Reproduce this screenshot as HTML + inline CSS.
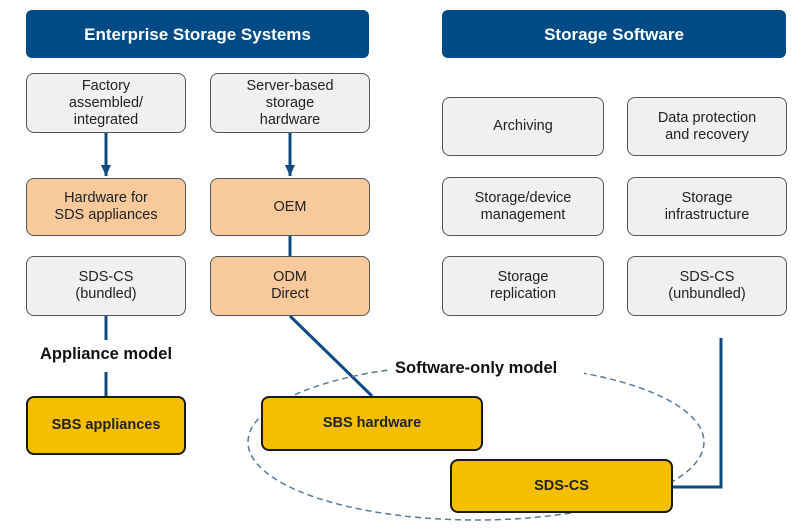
<!DOCTYPE html>
<html><head><style>
body{margin:0;width:804px;height:529px;background:#fff;overflow:hidden;position:relative;font-family:"Liberation Sans",Arial,sans-serif;}
.b{position:absolute;box-sizing:border-box;border-radius:8px;display:flex;align-items:center;justify-content:center;text-align:center;font-size:14.5px;line-height:17px;color:#222;}
.h{background:#004a86;color:#fff;font-weight:bold;font-size:17px;border-radius:6px;}
.g{background:#f0f0f0;border:1.5px solid #555;}
.o{background:#f8c99a;border:1.5px solid #555;}
.y{background:#f5bf00;border:2px solid #1a1a1a;font-weight:bold;color:#222;}
.t{position:absolute;font-weight:bold;font-size:16.5px;color:#111;}
</style></head><body>
<svg width="804" height="529" style="position:absolute;left:0;top:0">
<defs><marker id="a" markerUnits="userSpaceOnUse" markerWidth="12" markerHeight="12" refX="11" refY="6" orient="auto"><path d="M0,1 L11,6 L0,11 z" fill="#0d4a80"/></marker></defs>
<g stroke="#0d4a80" stroke-width="3" fill="none">
<line x1="106" y1="133" x2="106" y2="176" marker-end="url(#a)"/>
<line x1="290" y1="133" x2="290" y2="176" marker-end="url(#a)"/>
<line x1="290" y1="236" x2="290" y2="256"/>
<line x1="106" y1="316" x2="106" y2="340"/>
<line x1="106" y1="372" x2="106" y2="396"/>
<line x1="290" y1="316" x2="372" y2="396"/>
<polyline points="721,338 721,487 673,487"/>
</g>
<ellipse cx="476" cy="442" rx="228" ry="78" fill="none" stroke="#5a7a99" stroke-width="1.5" stroke-dasharray="6,4"/>
<rect x="388" y="355" width="196" height="28" fill="#fff"/>
</svg>
<div class="b h" style="left:26px;top:10px;width:343px;height:48px">Enterprise Storage Systems</div>
<div class="b h" style="left:442px;top:10px;width:344px;height:48px">Storage Software</div>
<div class="b g" style="left:26px;top:73px;width:160px;height:60px">Factory<br>assembled/<br>integrated</div>
<div class="b g" style="left:210px;top:73px;width:160px;height:60px">Server-based<br>storage<br>hardware</div>
<div class="b o" style="left:26px;top:178px;width:160px;height:58px">Hardware for<br>SDS appliances</div>
<div class="b o" style="left:210px;top:178px;width:160px;height:58px">OEM</div>
<div class="b g" style="left:26px;top:256px;width:160px;height:60px">SDS-CS<br>(bundled)</div>
<div class="b o" style="left:210px;top:256px;width:160px;height:60px">ODM<br>Direct</div>
<div class="b g" style="left:442px;top:97px;width:162px;height:59px">Archiving</div>
<div class="b g" style="left:627px;top:97px;width:160px;height:59px">Data protection<br>and recovery</div>
<div class="b g" style="left:442px;top:177px;width:162px;height:59px">Storage/device<br>management</div>
<div class="b g" style="left:627px;top:177px;width:160px;height:59px">Storage<br>infrastructure</div>
<div class="b g" style="left:442px;top:256px;width:162px;height:60px">Storage<br>replication</div>
<div class="b g" style="left:627px;top:256px;width:160px;height:60px">SDS-CS<br>(unbundled)</div>
<div class="t" style="left:40px;top:345px">Appliance model</div>
<div class="t" style="left:395px;top:359px">Software-only model</div>
<div class="b y" style="left:26px;top:396px;width:160px;height:59px">SBS appliances</div>
<div class="b y" style="left:261px;top:396px;width:222px;height:55px">SBS hardware</div>
<div class="b y" style="left:450px;top:459px;width:223px;height:54px">SDS-CS</div>
</body></html>
